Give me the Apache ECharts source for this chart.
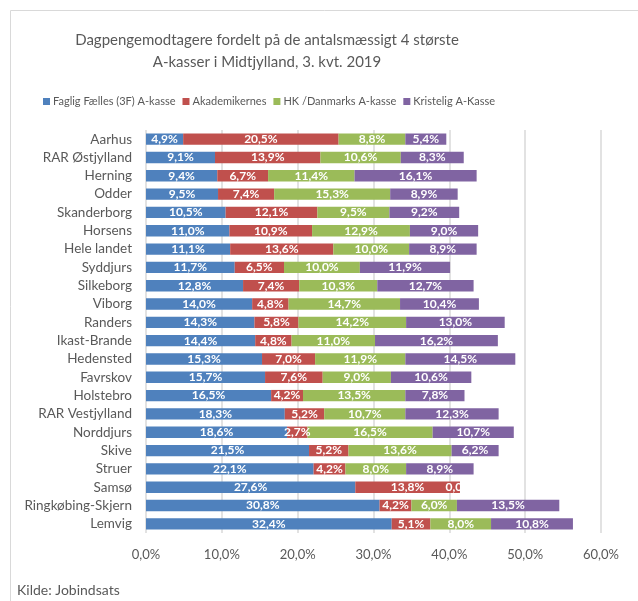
<!DOCTYPE html>
<html>
<head>
<meta charset="utf-8">
<script src="https://cdn.jsdelivr.net/npm/echarts@6/dist/echarts.min.js"></script>
<style>html,body{margin:0;padding:0;background:#fff}#c{width:638px;height:601px}</style>
</head>
<body>
<div id="c"></div>
<script>
const categories = ["Aarhus","RAR Østjylland","Herning","Odder","Skanderborg","Horsens","Hele landet","Syddjurs","Silkeborg","Viborg","Randers","Ikast-Brande","Hedensted","Favrskov","Holstebro","RAR Vestjylland","Norddjurs","Skive","Struer","Samsø","Ringkøbing-Skjern","Lemvig"];
const fagligFaelles = [4.9,9.1,9.4,9.5,10.5,11.0,11.1,11.7,12.8,14.0,14.3,14.4,15.3,15.7,16.5,18.3,18.6,21.5,22.1,27.6,30.8,32.4];
const akademikernes = [20.5,13.9,6.7,7.4,12.1,10.9,13.6,6.5,7.4,4.8,5.8,4.8,7.0,7.6,4.2,5.2,2.7,5.2,4.2,13.8,4.2,5.1];
const hkDanmark = [8.8,10.6,11.4,15.3,9.5,12.9,10.0,10.0,10.3,14.7,14.2,11.0,11.9,9.0,13.5,10.7,16.5,13.6,8.0,0.0,6.0,8.0];
const kristelig = [5.4,8.3,16.1,8.9,9.2,9.0,8.9,11.9,12.7,10.4,13.0,16.2,14.5,10.6,7.8,12.3,10.7,6.2,8.9,0.0,13.5,10.8];
const seriesNames = ["Faglig Fælles (3F) A-kasse","Akademikernes","HK /Danmarks A-kasse","Kristelig A-Kasse"];
const xTicks = [0,10,20,30,40,50,60];

const colors = ['#4F81BD','#C0504D','#9BBB59','#8064A2'];
const FONT = 'Lato, "Liberation Sans", sans-serif';
const fmt = v => v.toFixed(1).replace('.', ',') + '%';

function mkSeries(name, arr, idx) {
  return {
    name: name, type: 'bar', stack: 'total',
    barCategoryGap: '38%',
    itemStyle: { color: colors[idx] },
    label: {
      show: true, position: 'inside', color: '#fff', fontWeight: 'bold',
      fontSize: 12, fontFamily: FONT,
      formatter: p => {
        if (p.value === 0) return idx === 2 ? '0,0' : '';
        return fmt(p.value);
      }
    },
    data: arr.map(v => (v === 0 && idx === 2) ? { value: v, label: { offset: [-6, 0] } } : v)
  };
}

const chart = echarts.init(document.getElementById('c'), null, { renderer: 'canvas' });
chart.setOption({
  animation: false,
  color: colors,
  textStyle: { fontFamily: FONT },
  title: {
    text: 'Dagpengemodtagere fordelt på de antalsmæssigt 4 største\nA-kasser i Midtjylland, 3. kvt. 2019',
    left: 262, top: 24, textAlign: 'center',
    textStyle: { fontSize: 15, fontWeight: 'normal', color: '#595959', lineHeight: 22, fontFamily: FONT }
  },
  legend: {
    data: seriesNames, left: 38, top: 91,
    itemWidth: 7, itemHeight: 7, itemGap: 7, icon: 'rect',
    textStyle: { fontSize: 11, color: '#595959', fontFamily: FONT, padding: [0, 0, 0, -2] }
  },
  grid: { left: 146, right: 37, top: 130, bottom: 68, containLabel: false },
  xAxis: {
    type: 'value', min: 0, max: 60, interval: 10,
    axisLine: { show: false }, axisTick: { show: false },
    splitLine: { lineStyle: { color: '#D9D9D9', width: 1.5 } },
    axisLabel: { color: '#595959', fontSize: 13, margin: 15, fontFamily: FONT,
      formatter: v => xTicks.includes(v) ? v.toFixed(1).replace('.', ',') + '%' : '' }
  },
  yAxis: {
    type: 'category', data: categories, inverse: true,
    axisLine: { show: false }, axisTick: { show: false },
    axisLabel: { color: '#595959', fontSize: 13.5, margin: 14, fontFamily: FONT }
  },
  graphic: [
    { type: 'rect', shape: { x: 10.5, y: 10.5, width: 700, height: 700 }, style: { fill: 'none', stroke: '#D9D9D9', lineWidth: 1 }, silent: true },
    { type: 'text', left: 17, top: 583, style: { text: 'Kilde: Jobindsats', fill: '#595959', font: '14px ' + FONT } }
  ],
  series: [
    mkSeries(seriesNames[0], fagligFaelles, 0),
    mkSeries(seriesNames[1], akademikernes, 1),
    mkSeries(seriesNames[2], hkDanmark, 2),
    mkSeries(seriesNames[3], kristelig, 3)
  ]
});
</script>
</body>
</html>
